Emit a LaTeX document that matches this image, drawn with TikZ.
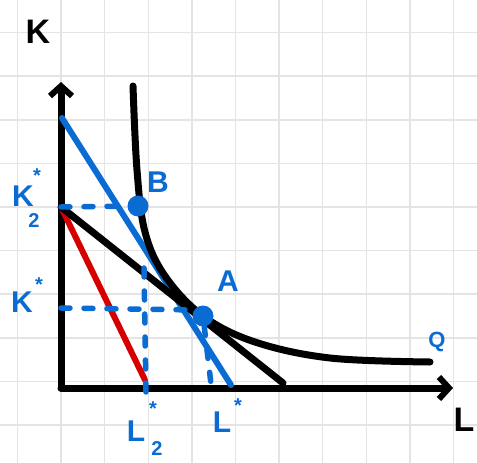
\documentclass[tikz,border=0pt]{standalone}
\usepackage{fontspec}
\setmainfont{Liberation Sans}
\usepackage{xcolor}
\usetikzlibrary{positioning,arrows.meta}

\definecolor{penblue}{RGB}{10,108,210}
\definecolor{penred}{RGB}{215,0,0}
\definecolor{gridgray}{RGB}{228,228,228}

\begin{document}
\begin{tikzpicture}[x=1pt,y=-1pt,
    gridline/.style={draw=gridgray, line width=1.5pt},
    axis/.style={line width=7pt, line cap=round, -{Straight Barb[length=10pt,width=22pt,line width=6pt]}},
    blackline/.style={line width=7pt, line cap=round},
    redline/.style={draw=penred, line width=6pt, line cap=round},
    blueline/.style={draw=penblue, line width=6pt, line cap=round},
    guide/.style={draw=penblue, line width=5.5pt, line cap=round, dash pattern=on 9pt off 14pt},
    dot/.style={circle, fill=penblue, inner sep=0pt, minimum size=21pt},
    lbl/.style={text=penblue, font=\bfseries\fontsize{30}{30}\selectfont},
    sml/.style={text=penblue, font=\bfseries\fontsize{20}{20}\selectfont},
    axlbl/.style={font=\bfseries\fontsize{34}{34}\selectfont}
]
\useasboundingbox (0,0) rectangle (477,463);
\fill[white] (0,0) rectangle (477,463);

% Grid paper
\foreach \i in {0,...,10} {
  \draw[gridline] (17.5+43.6*\i,0) -- (17.5+43.6*\i,463);
}
\foreach \j in {0,...,10} {
  \draw[gridline] (0,-11+43.6*\j) -- (477,-11+43.6*\j);
}

% Axes
\coordinate (O) at (61,388);
\coordinate (ytop) at (61,82);
\coordinate (xend) at (453,388);
\draw[axis] (O) -- (ytop);
\draw[axis] (O) -- (xend);
\node[axlbl] (K) at (38,32) {K};
\node[axlbl] (L) at (464,420) {L};

% Isocost lines
\coordinate (K2) at (61,207);
\coordinate (Kst) at (61,308);
\coordinate (Lend) at (283,383);
\coordinate (Rend) at (145,380);
\coordinate (Btop) at (62,118);
\coordinate (Bend) at (231,385);
\draw[blueline] (Btop) -- (Bend);
\draw[redline] (K2) -- (Rend);
\draw[blackline] (K2) -- (Lend);

% Isoquant
\draw[blackline] plot[smooth, tension=0.6] coordinates {(133,86) (137,170) (145,232) (165,276) (203,316) (255,342) (330,358) (430,362)};

% Points
\node[dot] (B) at (138,206) {};
\node[dot] (A) at (203,316) {};

% Guides
\coordinate (L2) at (146,394);
\coordinate (L2top) at (144,268);
\coordinate (Lst) at (211,384);
\coordinate (Kmid) at (196,310);
\draw[guide] (K2) -- (B);
\draw[guide] (Kst) -- (Kmid);
\draw[guide] (L2top) -- (L2);
\draw[guide] (A) -- (Lst);

% Labels
\node[lbl] (labB) at (158,182) {B};
\node[lbl] (labA) at (228,281) {A};
\node[sml, font=\bfseries\fontsize{22}{22}\selectfont] (labQ) at (437,342) {Q};
\node[lbl] (labK2) at (23,196) {K};
\node[sml] at (37,176) {*};
\node[sml] at (34,221) {2};
\node[lbl] (labK) at (22,302) {K};
\node[sml] at (39,285) {*};
\node[lbl] (labL2) at (136,431) {L};
\node[sml] at (153,409) {*};
\node[sml] at (157,449) {2};
\node[lbl] (labL) at (222,422) {L};
\node[sml] at (238,406) {*};
\end{tikzpicture}
\end{document}
